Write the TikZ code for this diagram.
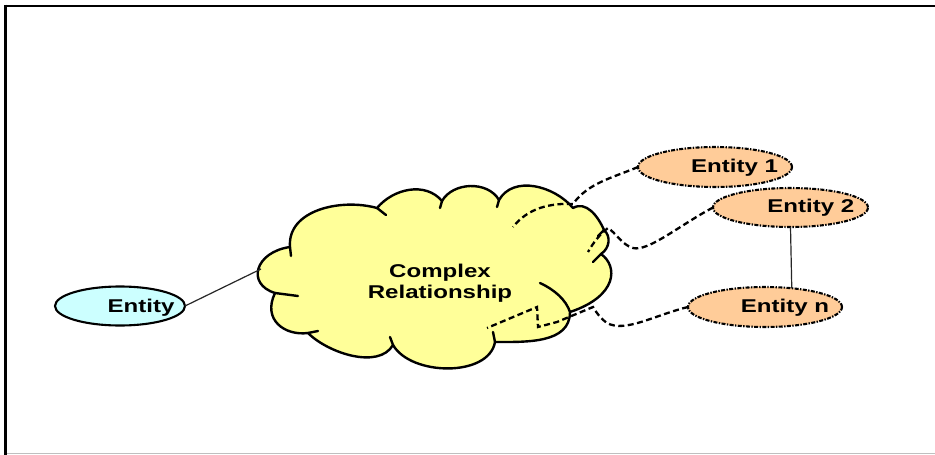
\documentclass[tikz,border=0pt]{standalone}
\usepackage{fontspec}
\newfontfamily\diafont{Liberation Sans}[FakeStretch=1.3]
\usetikzlibrary{shapes.geometric}

\definecolor{cloudfill}{HTML}{FFFF99}
\definecolor{peachfill}{HTML}{FFCC99}
\definecolor{palecyan}{HTML}{CCFFFF}

\tikzset{
  entbase/.style={ellipse, inner sep=0pt, outer sep=0pt, line width=2.1pt},
  peachent/.style={entbase, fill=peachfill, draw=black,
    dash pattern=on 4pt off 1.4pt on 1.4pt off 1.4pt},
  cyanent/.style={entbase, fill=palecyan, draw=black},
  lbl/.style={font=\diafont\bfseries\fontsize{18.5pt}{21.5pt}\selectfont,
    inner sep=0pt, outer sep=0pt},
  dashlink/.style={draw=black, line width=2.3pt, dash pattern=on 6pt off 3.5pt},
  cloudline/.style={draw=black, line width=2.4pt, line cap=round, line join=round},
  thinlink/.style={draw=black!85, line width=1.2pt},
}

\begin{document}
\begin{tikzpicture}[x=1pt,y=-1pt]
\useasboundingbox (0,0) rectangle (935,455);
\fill[white] (0,0) rectangle (935,455);

% page frame
\draw[black, line width=2.8pt] (5.6,4.5) -- (5.6,455);
\draw[black, line width=1.8pt] (4.5,5.8) -- (935,5.8);
\draw[black!25, line width=1.2pt] (7,453.6) -- (935,453.6);

% cloud outline junctions
\coordinate (j1) at (290,247);
\coordinate (j2) at (377,208);
\coordinate (j3) at (442,201);
\coordinate (j4) at (499,200);
\coordinate (j5) at (573,208);
\coordinate (j6) at (604,230);
\coordinate (j7) at (601,254);
\coordinate (j8) at (570,312);
\coordinate (j9) at (495,342);
\coordinate (j10) at (393,345);
\coordinate (j11) at (308,333);
\coordinate (j12) at (275,293);

% cloud body
\path[fill=cloudfill, cloudline]
  (j1) .. controls (287,210) and (341,198) .. (j2)
       .. controls (393.5,188.4) and (425.5,181.4) .. (j3)
       .. controls (453,181.7) and (488,180.7) .. (j4)
       .. controls (513.5,174.9) and (554.4,185.8) .. (j5)
       .. controls (585.9,200.5) and (598,216) .. (j6)
       .. controls (611,236) and (610,248) .. (j7)
       .. controls (618,266) and (618,296) .. (j8)
       .. controls (570,343.6) and (526.6,342) .. (j9)
       .. controls (488.8,377.4) and (411,376.1) .. (j10)
       .. controls (378.7,369.7) and (328.2,353.2) .. (j11)
       .. controls (285,336) and (262,320) .. (j12)
       .. controls (246,284) and (255,252) .. (j1) -- cycle;

% inner ends of the puffs
\draw[cloudline] (j1) -- (291,256);
\draw[cloudline] (j2) -- (386,215);
\draw[cloudline] (j3) -- (440,208);
\draw[cloudline] (j4) -- (497,207);
\draw[cloudline] (j6) -- (598,236);
\draw[cloudline] (j7) -- (593,262);
\draw[cloudline] (j8) .. controls (566,300) and (555,290) .. (540,283);
\draw[cloudline] (j9) -- (493,332);
\draw[cloudline] (j10) -- (390,337);
\draw[cloudline] (j11) -- (318,331);
\draw[cloudline] (j12) -- (298,296);

\node[lbl, align=center] (rel) at (440,283.2) {Complex\\Relationship};

% entities
\node[cyanent, minimum width=130pt, minimum height=39pt] (ent) at (120,306) {};
\node[lbl, anchor=base] (entt) at (141,312) {Entity};

\node[peachent, minimum width=154pt, minimum height=40pt] (e1) at (715,167) {};
\node[lbl, anchor=base] (e1t) at (734.5,172) {Entity 1};

\node[peachent, minimum width=155pt, minimum height=39pt] (e2) at (790.5,207.5) {};
\node[lbl, anchor=base] (e2t) at (810.8,212) {Entity 2};

\node[peachent, minimum width=154pt, minimum height=40pt] (en) at (765,307) {};
\node[lbl, anchor=base] (ent2) at (785,312) {Entity n};

% connector ends inside the cloud
\coordinate (cl0) at (261,269);
\coordinate (cl1) at (513,227);
\coordinate (cl2) at (588,252);
\coordinate (cl3) at (487,328);

% connectors
\draw[thinlink] (ent.east) -- (cl0);
\draw[thinlink] (e2.south) -- (en.35);

\draw[dashlink] (e1.west) .. controls (612,178) and (588,183) .. (573,204)
  .. controls (550,203) and (528,208) .. (cl1);
\draw[dashlink] (e2.west) .. controls (680,225) and (648,252) .. (633,248)
  .. controls (622,245) and (615,232) .. (608,228)
  .. controls (600,234) and (593,243) .. (cl2);
\draw[dashlink] (en.west) .. controls (655,315) and (625,333) .. (607,323)
  .. controls (600,318) and (596,312) .. (593,307)
  -- (557,322) -- (538,327) -- (537,307) -- (cl3);
\end{tikzpicture}
\end{document}
